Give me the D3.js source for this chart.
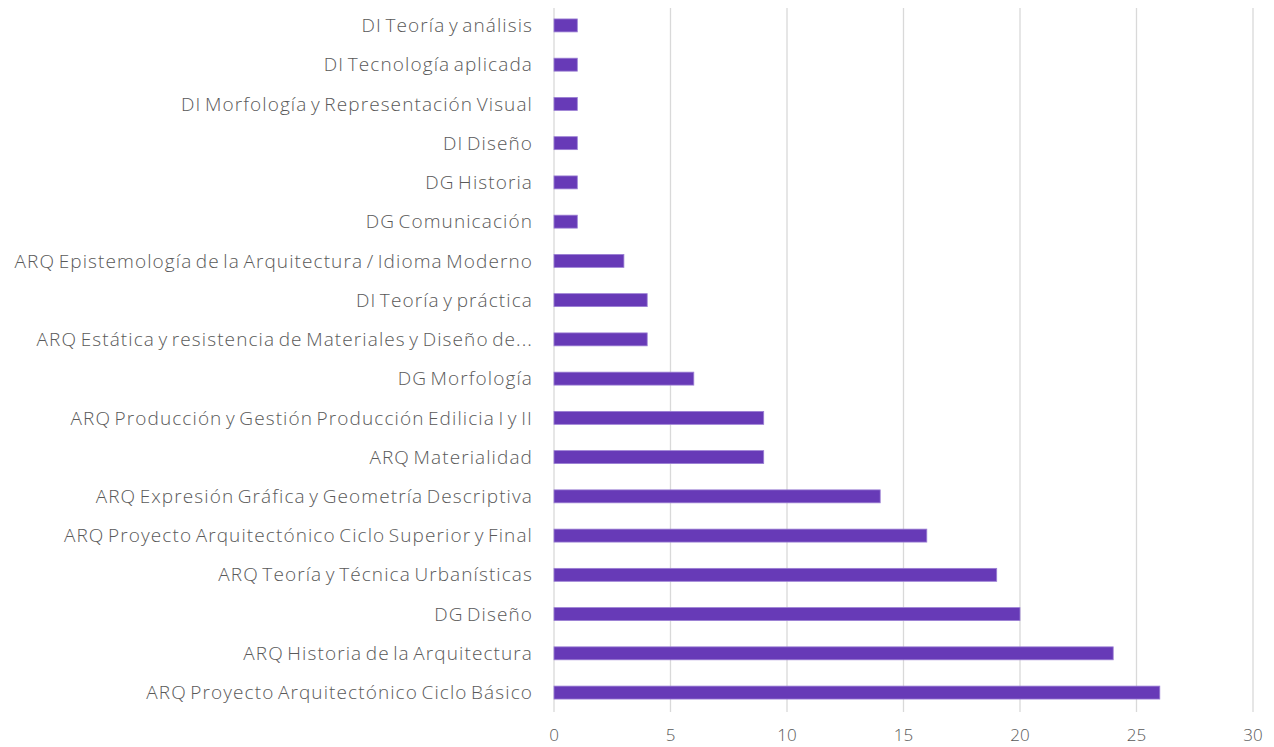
<!DOCTYPE html>
<html>
<head>
<meta charset="utf-8">
<script src="https://cdn.jsdelivr.net/npm/d3@7"></script>
<style>
  body { margin: 0; background: #fff; }
  text { font-family: "Open Sans", "Noto Sans", sans-serif; font-weight: 300; }
</style>
</head>
<body>
<div id="chart"></div>
<script>
// categories from top to bottom
var categories = [
  "DI Teoría y análisis",
  "DI Tecnología aplicada",
  "DI Morfología y Representación Visual",
  "DI Diseño",
  "DG Historia",
  "DG Comunicación",
  "ARQ Epistemología de la Arquitectura / Idioma Moderno",
  "DI Teoría y práctica",
  "ARQ Estática y resistencia de Materiales y Diseño de...",
  "DG Morfología",
  "ARQ Producción y Gestión Producción Edilicia I y II",
  "ARQ Materialidad",
  "ARQ Expresión Gráfica y Geometría Descriptiva",
  "ARQ Proyecto Arquitectónico Ciclo Superior y Final",
  "ARQ Teoría y Técnica Urbanísticas",
  "DG Diseño",
  "ARQ Historia de la Arquitectura",
  "ARQ Proyecto Arquitectónico Ciclo Básico"
];
var counts = [1, 1, 1, 1, 1, 1, 3, 4, 4, 6, 9, 9, 14, 16, 19, 20, 24, 26];
var xTicks = [0, 5, 10, 15, 20, 25, 30];

var data = categories.map(function (c, i) { return { name: c, value: counts[i] }; });

var width = 1274, height = 747;
var margin = { top: 6, right: 21, bottom: 35, left: 554 };

var svg = d3.select("#chart")
  .append("svg")
  .attr("width", width)
  .attr("height", height);

var x = d3.scaleLinear()
  .domain([0, 30])
  .range([margin.left, width - margin.right]);

var y = d3.scaleBand()
  .domain(categories)
  .range([margin.top, height - margin.bottom])
  .paddingInner(0.67)
  .paddingOuter(0.33);

// vertical gridlines
svg.append("g")
  .selectAll("line")
  .data(xTicks)
  .enter().append("line")
  .attr("x1", function (d) { return x(d); })
  .attr("x2", function (d) { return x(d); })
  .attr("y1", 8)
  .attr("y2", 712)
  .attr("stroke", "#d9d9d9")
  .attr("stroke-width", 1.3);

// bars
svg.append("g")
  .selectAll("rect")
  .data(data)
  .enter().append("rect")
  .attr("x", x(0))
  .attr("y", function (d) { return y(d.name); })
  .attr("width", function (d) { return x(d.value) - x(0); })
  .attr("height", y.bandwidth())
  .attr("fill", "#673ab7")
  .attr("stroke", "#9b7fd4")
  .attr("stroke-width", 0.8);

// category labels
svg.append("g")
  .selectAll("text")
  .data(data)
  .enter().append("text")
  .attr("x", x(0) - 21)
  .attr("y", function (d) { return y(d.name) + y.bandwidth() / 2; })
  .attr("dy", "0.35em")
  .attr("text-anchor", "end")
  .style("font-size", "19px")
  .style("letter-spacing", "1.1px")
  .style("word-spacing", "-2.5px")
  .attr("fill", "#595959")
  .text(function (d) { return d.name; });

// x axis labels
svg.append("g")
  .selectAll("text")
  .data(xTicks)
  .enter().append("text")
  .attr("x", function (d) { return x(d); })
  .attr("y", 735)
  .attr("dy", "0.35em")
  .attr("text-anchor", "middle")
  .style("font-size", "17px")
  .attr("fill", "#595959")
  .text(function (d) { return d; });
</script>
</body>
</html>
